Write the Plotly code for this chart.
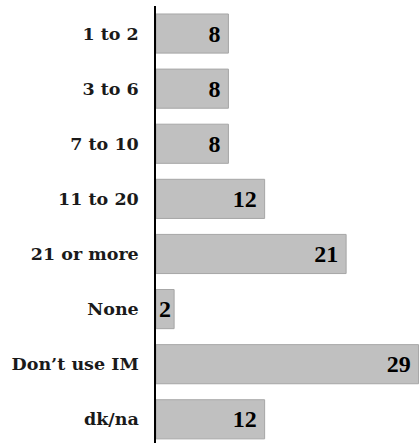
import plotly.graph_objects as go

categories = ["1 to 2", "3 to 6", "7 to 10", "11 to 20", "21 or more", "None", "Don\u2019t use IM", "dk/na"]
values = [8, 8, 8, 12, 21, 2, 29, 12]

tick_font = "DejaVu Serif, serif"
value_font = "Liberation Serif, serif"

# wider bars get a little extra right padding for their value label
labels = [str(v) + ("\u2009" if v >= 5 else "") for v in values]

fig = go.Figure(go.Bar(
    x=values,
    y=categories,
    orientation="h",
    marker=dict(color="#c0c0c0", line=dict(color="#a6a6a6", width=1)),
    width=0.71,
    text=labels,
    textposition="inside",
    insidetextanchor="end",
    constraintext="none",
    textangle=0,
    textfont=dict(family=value_font, size=24, color="black", weight="bold"),
    cliponaxis=False,
    hoverinfo="skip",
))

fig.update_layout(
    width=419,
    height=443,
    margin=dict(l=156, r=0, t=6, b=0, autoexpand=False),
    plot_bgcolor="white",
    paper_bgcolor="white",
    showlegend=False,
    uniformtext=dict(mode=False),
    font=dict(family=tick_font, size=17.5, color="#1a1a1a"),
)
fig.update_xaxes(range=[0, 29.05], visible=False, showgrid=False, zeroline=False, automargin=False)
fig.update_yaxes(
    type="category",
    categoryorder="array",
    categoryarray=categories,
    range=[7.43, -0.5],
    automargin=False,
    showline=True,
    linecolor="black",
    linewidth=1.5,
    showgrid=False,
    ticks="",
    ticklabelstandoff=12,
    tickfont=dict(family=tick_font, size=17.5, color="#1a1a1a", weight="bold"),
)

fig.write_html(
    "out.html",
    config={"displayModeBar": False},
    post_script="document.body.style.margin='0';document.body.style.overflow='hidden';",
)
